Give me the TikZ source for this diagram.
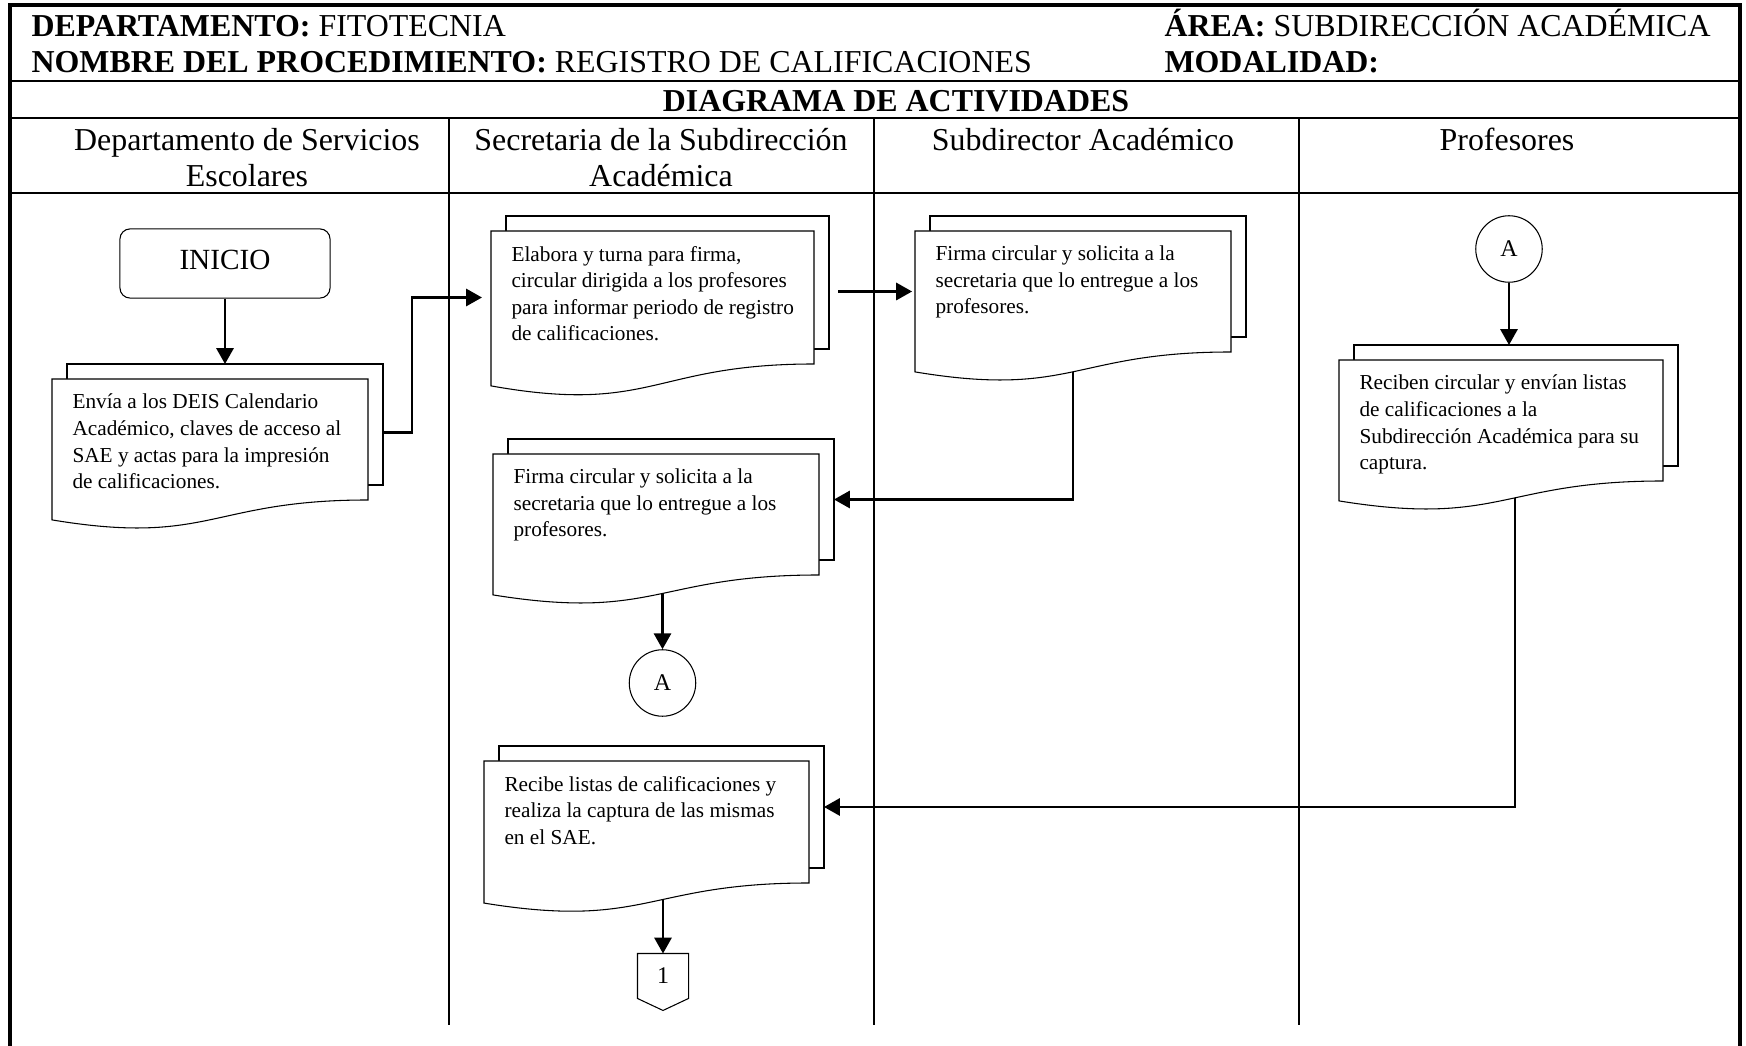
\documentclass[tikz,border=0pt]{standalone}
\usepackage{fontspec}
\setmainfont{Liberation Serif}
\usetikzlibrary{arrows.meta,calc}
\pgfdeclarelayer{bg}
\pgfsetlayers{bg,main}

% multidocument: name, left, top, right, right-bottom, text
\newcommand{\multidoc}[6]{%
  \pgfmathsetmacro{\docH}{(#5-#3)/0.802}%
  \pgfmathsetmacro{\docLB}{#3+0.934*\docH}%
  \pgfmathsetmacro{\docCtl}{#3+1.108*\docH}%
  \pgfmathsetmacro{\docMid}{(#2+#4)/2}%
  \pgfmathsetmacro{\docYm}{(#3+#5)/2}%
  \draw[sheet] (#2+15,#3-15) rectangle (#4+15,#5-15);
  \draw[sheet] (#2,#3) -- (#4,#3) -- (#4,#5) .. controls (\docMid,#5) and (\docMid,\docCtl) .. (#2,\docLB) -- cycle;
  \coordinate (#1-n) at (\docMid+15,#3-15);
  \coordinate (#1-e) at (#4+15,\docYm-15);
  \coordinate (#1-w) at (#2,\docYm);
  \coordinate (#1-c) at (\docMid,\docYm);
  \node[doctext] (#1) at (#2+20,#3+14.5) {#6};
}

\begin{document}
\begin{tikzpicture}[x=0.376pt,y=-0.376pt,
    frame/.style={line width=1.5pt},
    rule/.style={line width=1pt},
    sheet/.style={draw,fill=white,line width=0.4pt},
    doctext/.style={anchor=north west,inner sep=0pt,align=left,
      font=\fontsize{8pt}{10pt}\selectfont,execute at begin node=\strut},
    head/.style={inner sep=0pt,font=\fontsize{12pt}{13.5pt}\selectfont},
    lanehead/.style={head,anchor=north,align=center,execute at begin node=\strut},
    startbox/.style={draw,line width=0.4pt,rounded corners=3.8pt,minimum width=79pt,
      minimum height=26pt,inner sep=0pt,text depth=3pt,font=\fontsize{11pt}{13pt}\selectfont},
    connector/.style={circle,draw,fill=white,line width=0.4pt,minimum size=25pt,
      inner sep=0pt,font=\fontsize{9pt}{11pt}\selectfont},
    offpage/.style={minimum width=18.8pt,minimum height=16.5pt,inner sep=0pt,
      font=\fontsize{9pt}{11pt}\selectfont},
    flow/.style={line width=0.9pt,-{Triangle[length=6pt,width=6.5pt]}}]
  \useasboundingbox (0,0) rectangle (1746,1046);

  \draw[frame] (10,1046) -- (10,5) -- (1740,5) -- (1740,1046);
  \draw[rule] (10,81) -- (1740,81);
  \draw[rule] (10,118) -- (1740,118);
  \draw[rule] (10,193) -- (1740,193);
  \foreach \x in {449,874,1299}
    \draw[rule] (\x,118) -- (\x,1025);

  \node[head,anchor=base west] (dep) at (31,37) {\textbf{DEPARTAMENTO:} FITOTECNIA};
  \node[head,anchor=base west] (nom) at (31,72.5) {\textbf{NOMBRE DEL PROCEDIMIENTO:} REGISTRO DE CALIFICACIONES};
  \node[head,anchor=base west] (area) at (1164,37) {\textbf{ÁREA:} SUBDIRECCIÓN ACADÉMICA};
  \node[head,anchor=base west] (mod) at (1164,72.5) {\textbf{MODALIDAD:}};
  \node[head,anchor=base] (diag) at (896,111.5) {\textbf{DIAGRAMA DE ACTIVIDADES}};

  \node[lanehead] (dse) at (247,127.5) {Departamento de Servicios\\Escolares};
  \node[lanehead] (ssa) at (661,127.5) {Secretaria de la Subdirección\\Académica};
  \node[lanehead] (sda) at (1083,124.5) {Subdirector Académico};
  \node[lanehead] (pro) at (1507,124.5) {Profesores};

  \node[startbox] (inicio) at (225,263.5) {INICIO};
  \multidoc{d1}{52}{379}{368}{500}{Envía a los DEIS Calendario\\Académico, claves de acceso al\\SAE y actas para la impresión\\de calificaciones.}
  \multidoc{d2}{491}{231}{814}{364}{Elabora y turna para firma,\\circular dirigida a los profesores\\para informar periodo de registro\\de calificaciones.}
  \multidoc{d3}{915}{231}{1231}{352}{Firma circular y solicita a la\\secretaria que lo entregue a los\\profesores.}
  \multidoc{d4}{493}{454}{819}{575}{Firma circular y solicita a la\\secretaria que lo entregue a los\\profesores.}
  \multidoc{d5}{484}{761}{809}{883}{Recibe listas de calificaciones y\\realiza la captura de las mismas\\en el SAE.}
  \multidoc{d6}{1339}{360}{1663}{481}{Reciben circular y envían listas\\de calificaciones a la\\Subdirección Académica para su\\captura.}
  \node[connector] (A1) at (662.5,683) {A};
  \node[connector] (A2) at (1509,249) {A};
  \node[offpage] (off1) at (663,976) {1};
  \draw[line width=0.4pt] (off1.north west) -- (off1.north east) -- (off1.south east)
    -- ($(off1.south)+(0,12)$) -- (off1.south west) -- cycle;

  \begin{pgfonlayer}{bg}
    \draw[flow] (inicio) -- (inicio |- d1-n);
    \draw[flow,shorten >=3.4pt] ($(d1-e)+(0,8)$) -- ++(29,0) |- (d2-w);
    \draw[flow,shorten <=3.4pt,shorten >=1.1pt] (d2-e |- d3-w) -- (d3-w);
    \draw[flow] (d3-c) |- (d4-e);
    \draw[flow] (A1 |- d4-c) -- (A1);
    \draw[flow] (A2) -- (A2 |- d6-n);
    \draw[flow] ($(d6-c)+(14,0)$) |- (d5-e);
    \draw[flow] (off1 |- d5-c) -- (off1);
  \end{pgfonlayer}
\end{tikzpicture}
\end{document}
